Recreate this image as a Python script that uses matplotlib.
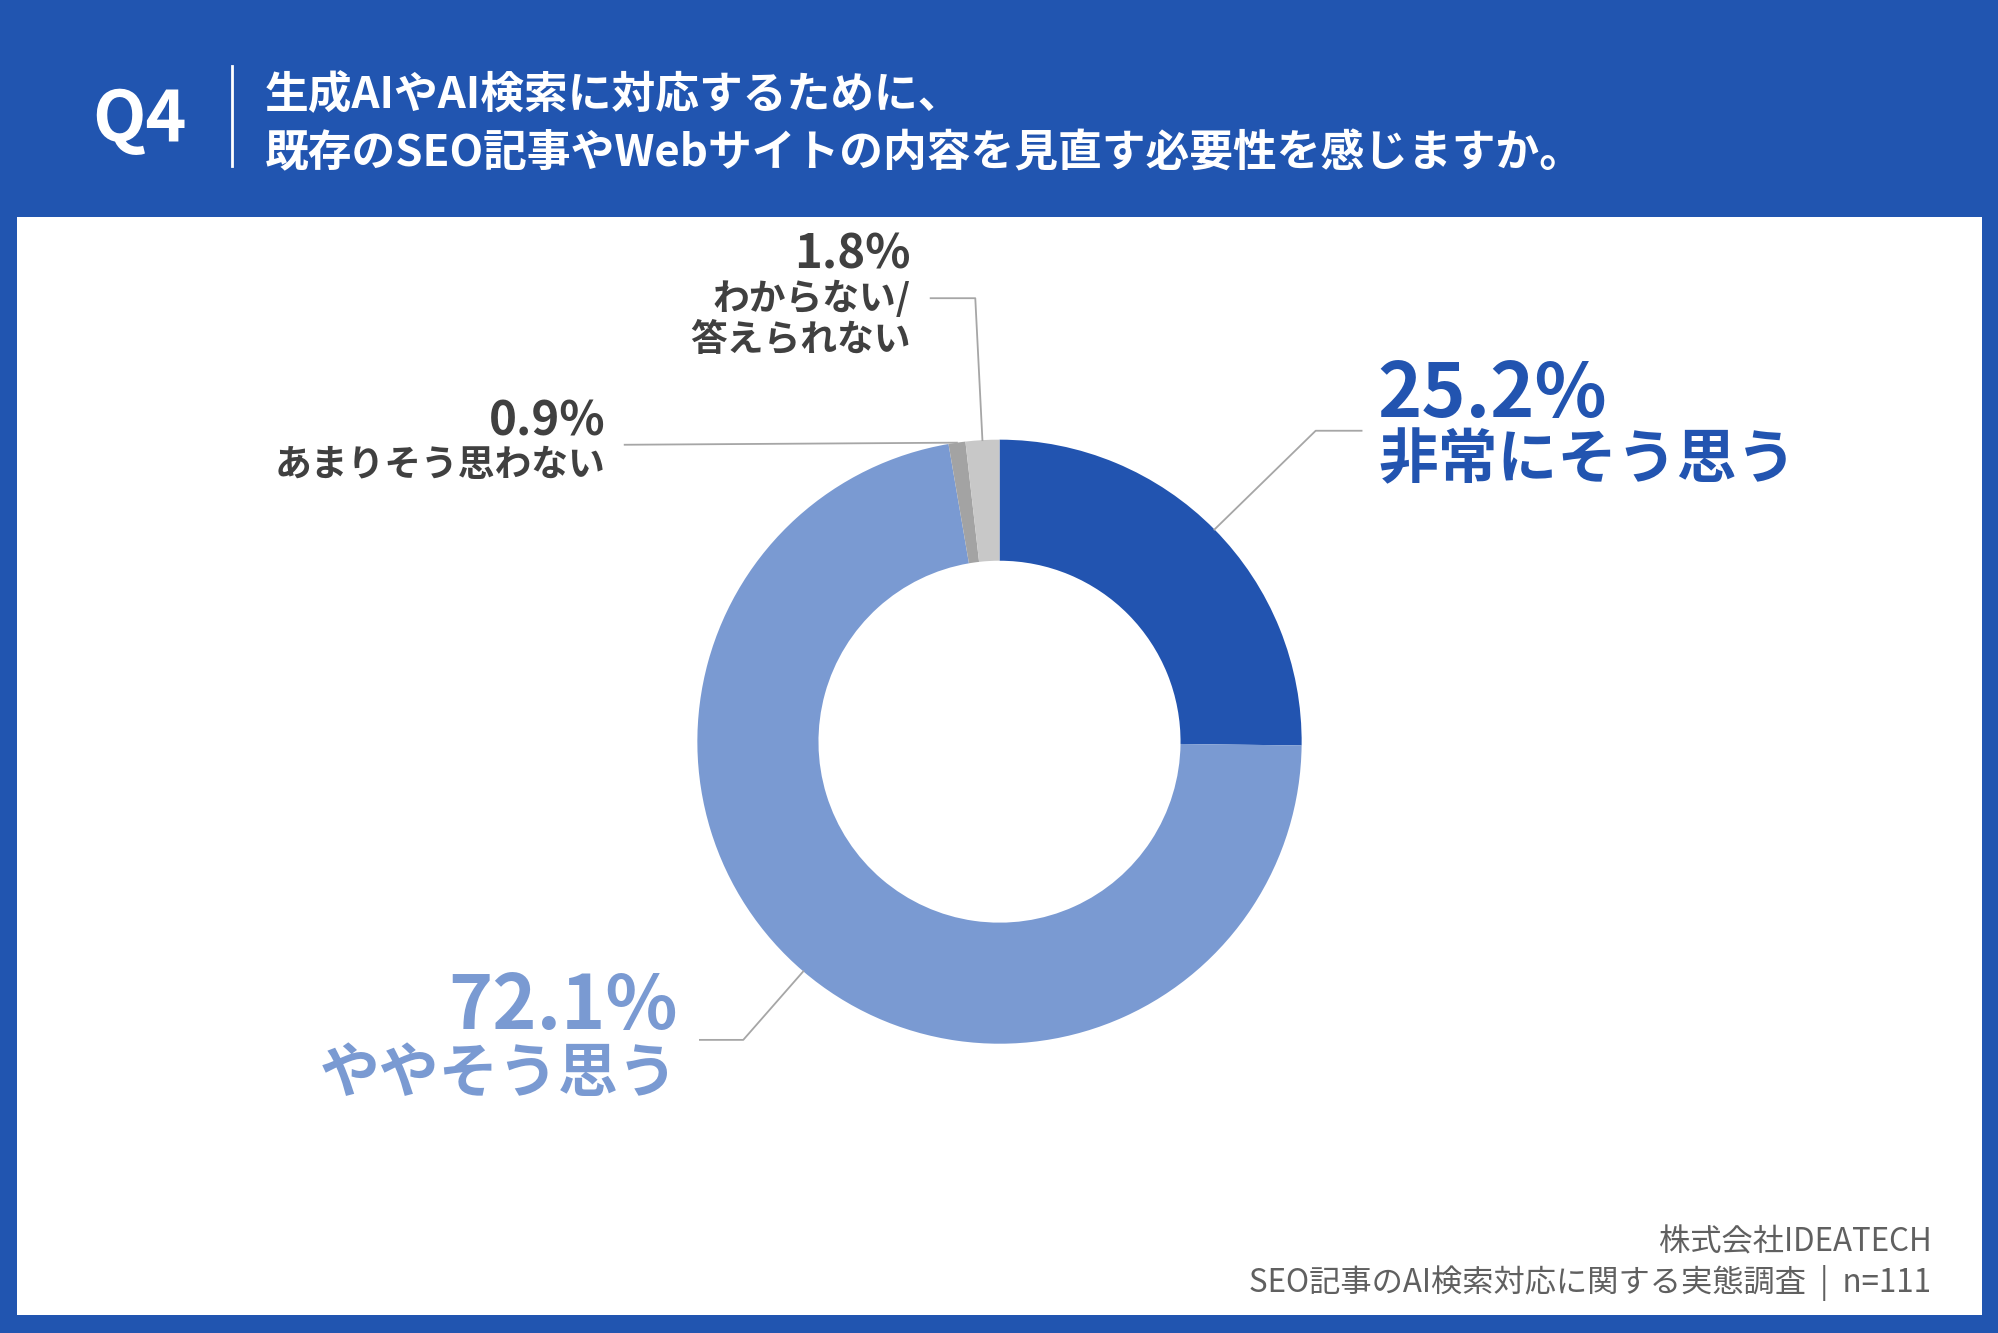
import numpy as np
import matplotlib
matplotlib.use("Agg")
import matplotlib.pyplot as plt
from matplotlib.patches import Rectangle

plt.rcParams['font.family'] = ['Noto Sans CJK JP', 'DejaVu Sans']

# data
labels = ['非常にそう思う', 'ややそう思う', 'あまりそう思わない', 'わからない/\n答えられない']
values = [25.2, 72.1, 0.9, 1.8]
colors = ['#2254B0', '#7A9AD2', '#A3A3A3', '#C8C8C8']
title_q = 'Q4'
title_lines = ['生成AIやAI検索に対応するために、',
               '既存のSEO記事やWebサイトの内容を見直す必要性を感じますか。']
footer = ['株式会社IDEATECH', 'SEO記事のAI検索対応に関する実態調査  |  n=111']

W, H = 1568, 1046
BLUE = '#2155B0'
LINE = '#A6A6A6'
DARK = '#404040'


def yy(y):
    return H - y


fig = plt.figure(figsize=(19.99, 13.33), dpi=100, facecolor=BLUE)
ax = fig.add_axes([0, 0, 1, 1])
ax.set_facecolor(BLUE)

ax.add_patch(Rectangle((13, yy(1032)), 1542, 862, facecolor='white',
                       edgecolor='none', zorder=0))

# header
ax.text(72, yy(95), title_q, color='white', fontsize=50, fontweight='bold',
        ha='left', va='center')
ax.plot([182, 182], [yy(52), yy(130)], color='white', lw=2)
ax.text(208, yy(75), title_lines[0], color='white', fontsize=31.5,
        fontweight='bold', ha='left', va='center')
ax.text(208, yy(120), title_lines[1], color='white', fontsize=31.5,
        fontweight='bold', ha='left', va='center')

# donut
cx, cy, R = 784, 582, 237
wedges, _ = ax.pie(values, colors=colors, startangle=90, counterclock=False,
                   center=(cx, yy(cy)), radius=R, frame=True,
                   wedgeprops=dict(width=95, linewidth=0))

# leader line start points from wedge middle angles
cum = np.cumsum([0] + values[:-1])
mids = 90 - (cum + np.array(values) / 2) * 3.6
starts = [(cx + R * np.cos(np.radians(a)), yy(cy) + R * np.sin(np.radians(a)))
          for a in mids]

# 25.2%
sx, sy = starts[0]
ax.plot([sx, 1032, 1068], [sy, yy(338), yy(338)], color=LINE, lw=1.3)
ax.text(1080, yy(310), f'{values[0]}%', color=colors[0], fontsize=54,
        fontweight='bold', ha='left', va='center')
ax.text(1081, yy(362), labels[0], color=colors[0], fontsize=43,
        fontweight='bold', ha='left', va='center')

# 72.1%
sx, sy = starts[1]
ax.plot([sx, 583, 549], [sy, yy(816), yy(816)], color=LINE, lw=1.3)
ax.text(532, yy(790), f'{values[1]}%', color=colors[1], fontsize=54,
        fontweight='bold', ha='right', va='center')
ax.text(532, yy(843), labels[1], color=colors[1], fontsize=43,
        fontweight='bold', ha='right', va='center')

# 0.9%
sx, sy = starts[2]
ax.plot([sx, 490], [sy, yy(349)], color=LINE, lw=1.3)
ax.text(475, yy(331), f'{values[2]}%', color=DARK, fontsize=34,
        fontweight='bold', ha='right', va='center')
ax.text(475, yy(365), labels[2], color=DARK, fontsize=26.5,
        fontweight='bold', ha='right', va='center')

# 1.8%
sx, sy = starts[3]
ax.plot([730, 765, sx], [yy(234), yy(234), sy], color=LINE, lw=1.3)
ax.text(714, yy(200), f'{values[3]}%', color=DARK, fontsize=34,
        fontweight='bold', ha='right', va='center')
lab = labels[3].split('\n')
ax.text(714, yy(235), lab[0], color=DARK, fontsize=26.5,
        fontweight='bold', ha='right', va='center')
ax.text(714, yy(267), lab[1], color=DARK, fontsize=26.5,
        fontweight='bold', ha='right', va='center')

# footer
ax.text(1515, yy(975), footer[0], color='#606060', fontsize=22.5,
        ha='right', va='center')
ax.text(1515, yy(1007), footer[1], color='#606060', fontsize=22.5,
        ha='right', va='center')

ax.set_xlim(0, W)
ax.set_ylim(0, H)
ax.set_aspect('auto')
ax.axis('off')

fig.savefig('out.png', dpi=100, facecolor=BLUE)
